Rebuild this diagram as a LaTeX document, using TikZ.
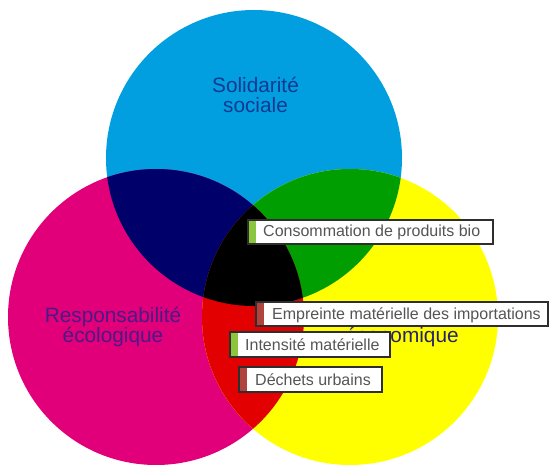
\documentclass[tikz,border=0pt]{standalone}
\usepackage{fontspec}
\setmainfont{Liberation Sans}
\definecolor{cyanc}{HTML}{019FDF}
\definecolor{magc}{HTML}{E2007A}
\definecolor{yelc}{HTML}{FFFF00}
\definecolor{navyc}{HTML}{00006B}
\definecolor{greenc}{HTML}{009E00}
\definecolor{redc}{HTML}{E20000}
\definecolor{txtS}{HTML}{0F3A94}
\definecolor{txtR}{HTML}{4A1A86}
\definecolor{txtE}{HTML}{232370}
\definecolor{barG}{HTML}{8CC63F}
\definecolor{barR}{HTML}{B0433D}
\definecolor{lblborder}{HTML}{2E2E2E}
\definecolor{lbltext}{HTML}{555555}
\tikzset{
  bigtext/.style={align=center, inner sep=0pt, anchor=base, font=\fontsize{20.8}{20}\selectfont},
  lblbox/.style={draw=lblborder, line width=1.1pt},
  lbltxt/.style={inner sep=0pt, anchor=base west, text=lbltext, font=\fontsize{16}{18}\selectfont}
}
\begin{document}
\begin{tikzpicture}[x=1pt,y=-1pt]
\useasboundingbox (0,0) rectangle (549,465);
\clip (0,0) rectangle (549,465);
\coordinate (cs) at (254,158);
\coordinate (ce) at (156,317);
\coordinate (cf) at (350,317);
% circles
\fill[cyanc] (cs) circle[radius=148pt];
\fill[magc] (ce) circle[radius=148pt];
\fill[yelc] (cf) circle[radius=148pt];
\begin{scope}
  \clip (cs) circle[radius=148pt];
  \fill[navyc] (ce) circle[radius=148pt];
  \fill[greenc] (cf) circle[radius=148pt];
\end{scope}
\begin{scope}
  \clip (ce) circle[radius=148pt];
  \fill[redc] (cf) circle[radius=148pt];
\end{scope}
\begin{scope}
  \clip (cs) circle[radius=148pt];
  \clip (ce) circle[radius=148pt];
  \fill[black] (cf) circle[radius=148pt];
\end{scope}
% circle titles (anchor base = baseline of last line)
\node[bigtext, text=txtS] (ts) at (255.5,113) {Solidarité\\sociale};
\node[bigtext, text=txtR] (tr) at (113,342) {Responsabilité\\écologique};
\node[bigtext, text=txtE] (te) at (402,342) {Efficacité\\économique};
% labels
\fill[white] (248,220) rectangle (493,244);
\fill[barG] (248,220) rectangle (256,244);
\draw[lblbox] (248,220) rectangle (493,244);
\node[lbltxt] (l1) at (263,237) {Consommation de produits bio};

\fill[white] (256,302) rectangle (548,326);
\fill[barR] (256,302) rectangle (264,326);
\draw[lblbox] (256,302) rectangle (548,326);
\node[lbltxt] (l2) at (272,319) {Empreinte matérielle des importations};

\fill[white] (230,332) rectangle (390,357);
\fill[barG] (230,332) rectangle (238,357);
\draw[lblbox] (230,332) rectangle (390,357);
\node[lbltxt] (l3) at (245,350) {Intensité matérielle};

\fill[white] (239,367) rectangle (382,392);
\fill[barR] (239,367) rectangle (247,392);
\draw[lblbox] (239,367) rectangle (382,392);
\node[lbltxt] (l4) at (255,385) {Déchets urbains};
\end{tikzpicture}
\end{document}
